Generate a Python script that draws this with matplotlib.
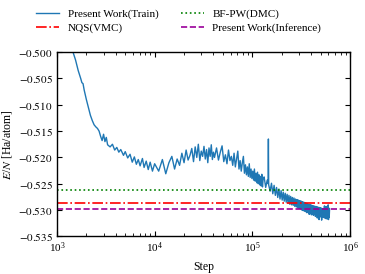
import numpy as np
import matplotlib
matplotlib.use("Agg")
import matplotlib.pyplot as plt

plt.rcParams['font.family'] = ['Liberation Serif', 'DejaVu Serif']
plt.rcParams['mathtext.fontset'] = 'stix'

# training curve (step in thousands, energy in Ha/atom)
steps_k = [1.40, 1.46, 1.55, 1.65, 1.75, 1.80, 1.85, 1.90, 2.0, 2.1, 2.2, 2.3, 2.4, 2.5,
           2.6, 2.7, 2.8, 2.9, 3.0, 3.1, 3.2, 3.3, 3.5, 3.7, 3.9, 4.1, 4.3, 4.5, 4.8,
           5.0, 5.3, 5.6, 5.9, 6.2, 6.5, 6.8, 7.1, 7.5, 7.8, 8.2, 8.6, 9.0, 9.5,
           10, 11, 12, 13, 14, 15, 16, 17, 18, 19, 20, 21, 22, 23, 24, 25, 26, 27, 28,
           29, 30, 31, 32, 33, 34, 35, 36, 37, 38, 39, 40, 41,
           43, 45, 47, 49, 51, 53, 55, 57, 59, 61, 63, 65, 67, 69, 71, 73, 75, 77, 79,
           81, 83, 85, 87, 89, 91, 93, 95, 97, 99, 101, 103, 105, 107, 109, 111, 113,
           115, 117, 119, 121, 123, 125, 127, 129,
           132, 137, 142, 145, 146, 147, 152, 157, 162, 167, 172, 177, 182, 187, 192,
           197, 202, 207, 212, 217, 222, 227, 232, 237, 242, 247, 252, 257, 262, 267,
           272, 277, 282, 287, 292, 297, 302, 307, 312, 317, 322, 327, 332, 337, 342,
           347, 352, 357, 362, 367, 372, 377, 382, 387, 392, 397, 402, 407, 412, 417,
           422, 427, 432, 437, 442, 447, 452, 457, 462, 467, 472, 477, 482, 487, 492,
           497, 502, 507, 512, 517, 522, 527, 532, 537, 542, 547, 552, 557, 562, 567,
           572, 577, 582, 587, 592, 597, 602, 607, 612, 617]
energy = [-0.4990, -0.5000, -0.5015, -0.5035, -0.5050, -0.5058, -0.5060, -0.5072, -0.5090,
          -0.5105, -0.5120, -0.5130, -0.5138, -0.5142, -0.5145, -0.5150, -0.5160, -0.5168,
          -0.5156, -0.5170, -0.5162, -0.5176, -0.5180, -0.5175, -0.5186, -0.5181, -0.5190,
          -0.5185, -0.5196, -0.5189, -0.5201, -0.5194, -0.5209, -0.5199, -0.5213, -0.5204,
          -0.5216, -0.5202, -0.5219, -0.5207, -0.5223, -0.5209, -0.5226,
          -0.5212, -0.5226, -0.5204, -0.5231, -0.5210, -0.5198, -0.5222, -0.5203, -0.5215,
          -0.5192, -0.5210, -0.5186, -0.5205, -0.5196, -0.5183, -0.5208, -0.5180, -0.5200,
          -0.5175, -0.5206, -0.5188, -0.5198, -0.5179, -0.5203, -0.5185, -0.5210, -0.5182,
          -0.5198, -0.5176, -0.5204, -0.5190, -0.5200,
          -0.5182, -0.5205, -0.5190, -0.5178, -0.5208, -0.5195, -0.5212, -0.5186, -0.5206,
          -0.5198, -0.5215, -0.5192, -0.5218, -0.5203, -0.5188, -0.5222, -0.5206, -0.5226,
          -0.5210, -0.5198, -0.5230, -0.5214, -0.5233, -0.5218, -0.5236, -0.5212, -0.5238,
          -0.5222, -0.5240, -0.5226, -0.5243, -0.5222, -0.5245, -0.5230, -0.5248, -0.5228,
          -0.5250, -0.5233, -0.5252, -0.5236, -0.5254, -0.5232, -0.5256, -0.5240,
          -0.5237, -0.5257, -0.5243, -0.5250, -0.5165, -0.5252, -0.5264, -0.5249, -0.5269,
          -0.5253, -0.5272, -0.5257, -0.5276, -0.5260, -0.5279, -0.5263, -0.5281, -0.5266,
          -0.5283, -0.5268, -0.5285, -0.5270, -0.5287, -0.5272, -0.5289, -0.5274, -0.5290,
          -0.5276, -0.5291, -0.5277, -0.5293, -0.5279, -0.5294, -0.5280, -0.5296, -0.5281,
          -0.5297, -0.5282, -0.5298, -0.5283, -0.5300, -0.5284, -0.5301, -0.5285, -0.5302,
          -0.5286, -0.5303, -0.5287, -0.5305, -0.5288, -0.5304, -0.5289, -0.5308, -0.5290,
          -0.5306, -0.5290, -0.5309, -0.5291, -0.5307, -0.5292, -0.5310, -0.5292, -0.5308,
          -0.5293, -0.5312, -0.5293, -0.5309, -0.5294, -0.5315, -0.5294, -0.5310, -0.5295,
          -0.5318, -0.5295, -0.5311, -0.5296, -0.5313, -0.5296, -0.5319, -0.5297, -0.5312,
          -0.5297, -0.5314, -0.5298, -0.5313, -0.5292, -0.5315, -0.5298, -0.5316, -0.5293,
          -0.5314, -0.5299, -0.5317, -0.5294, -0.5315, -0.5290, -0.5318, -0.5296, -0.5314,
          -0.5298]

# reference energies
e_dmc = -0.5262
e_vmc = -0.5286
e_inf = -0.5298

steps = np.array(steps_k) * 1000

fig = plt.figure(figsize=(3.65, 2.74), dpi=100)
ax = fig.add_axes([0.156, 0.137, 0.803, 0.673])

l1, = ax.plot(steps, energy, color='#1f77b4', lw=1.0, label='Present Work(Train)')
l2 = ax.axhline(e_vmc, color='red', ls='-.', lw=1.2, label='NQS(VMC)')
l3 = ax.axhline(e_dmc, color='green', ls=':', lw=1.2, label='BF-PW(DMC)')
l4 = ax.axhline(e_inf, color='#990099', ls='--', lw=1.2, label='Present Work(Inference)')

ax.set_xscale('log')
ax.set_xlim(1e3, 1e6)
ax.set_ylim(-0.535, -0.500)
ax.set_yticks(np.arange(-0.535, -0.4999, 0.005))
ax.yaxis.set_major_formatter(matplotlib.ticker.FuncFormatter(lambda v, p: '$-%.3f$' % abs(v)))
ax.tick_params(which='both', direction='in', top=True, right=True, labelsize=8, pad=3)
ax.set_xlabel('Step', fontsize=8.5, labelpad=4)
ax.set_ylabel('$E$/$N$ [Ha/atom]', fontsize=8.5, labelpad=3)
for s in ax.spines.values():
    s.set_linewidth(1.0)

fig.legend(handles=[l1, l2, l3, l4], ncol=2, frameon=False, fontsize=8,
           loc='upper left', bbox_to_anchor=(36 / 365, 1 - 9 / 274), borderpad=0,
           borderaxespad=0, columnspacing=2.0, handlelength=2.1, handletextpad=0.75,
           labelspacing=0.35)

fig.savefig('out.png', dpi=100)
